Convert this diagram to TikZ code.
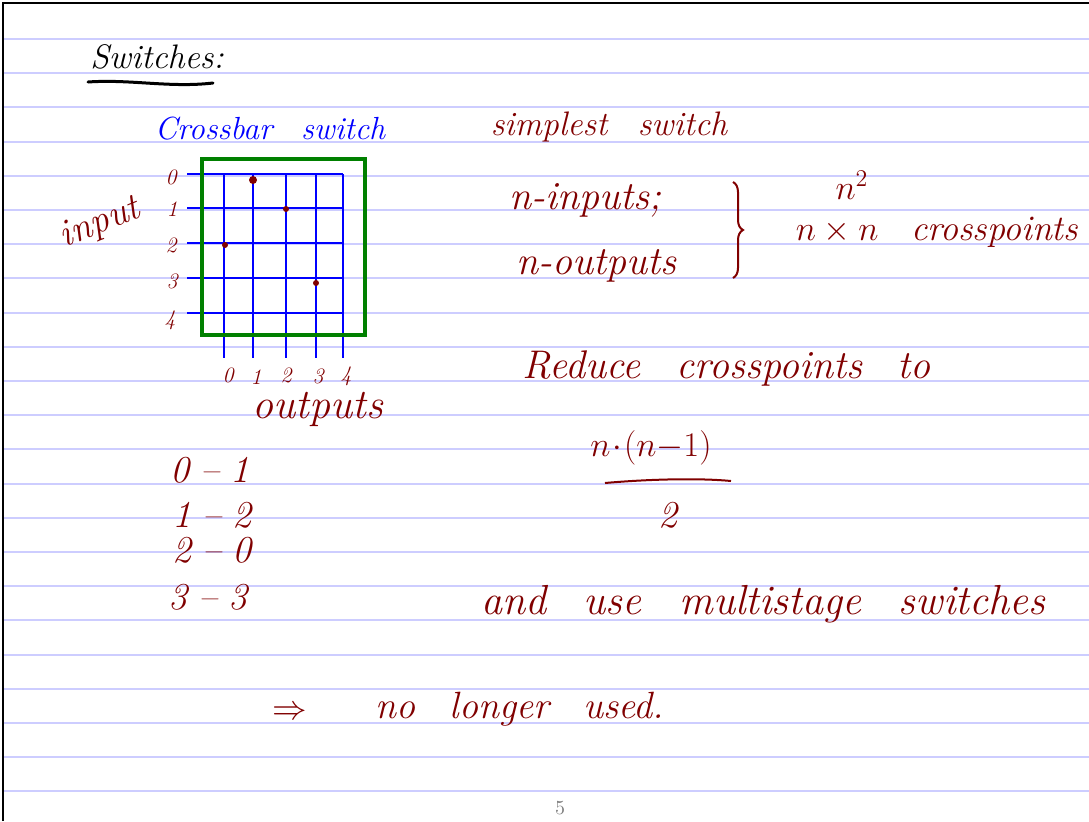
\documentclass[tikz,border=0pt]{standalone}
\usepackage{amsmath,amssymb}
\usepackage{tikz}
\usetikzlibrary{positioning,decorations.pathreplacing}
\definecolor{ink}{RGB}{128,0,0}
\definecolor{inkblue}{RGB}{0,0,255}
\definecolor{inkgreen}{RGB}{0,128,0}
\definecolor{ruling}{RGB}{205,205,255}
\newcommand{\handsize}[1]{\fontsize{#1}{#1}\selectfont\itshape\spaceskip=0.9em plus 0.1em\relax}
\newcommand{\pairsize}{\fontsize{19}{19}\selectfont\itshape\spaceskip=0.3em plus 0.1em\relax}

\begin{document}
\begin{tikzpicture}[x={(0.5pt,0pt)},y={(0pt,-0.5pt)},every node/.style={inner sep=0pt, outer sep=0pt},
  hand/.style={text=ink, font=\handsize{17}},
  small/.style={text=ink, font=\handsize{11}},
  pair/.style={text=ink, font=\pairsize},
  rule/.style={ruling, line width=1pt},
  wire/.style={inkblue, line width=1pt},
  dot/.style={circle, fill=ink, minimum size=3pt}]
\useasboundingbox (0,0) rectangle (1089,821);
% lined paper
\draw[rule] (3,39) -- (1089,39);
\draw[rule] (3,73) -- (1089,73);
\draw[rule] (3,107) -- (1089,107);
\draw[rule] (3,142) -- (1089,142);
\draw[rule] (3,176) -- (1089,176);
\draw[rule] (3,210) -- (1089,210);
\draw[rule] (3,244) -- (1089,244);
\draw[rule] (3,278) -- (1089,278);
\draw[rule] (3,313) -- (1089,313);
\draw[rule] (3,347) -- (1089,347);
\draw[rule] (3,381) -- (1089,381);
\draw[rule] (3,415) -- (1089,415);
\draw[rule] (3,449) -- (1089,449);
\draw[rule] (3,484) -- (1089,484);
\draw[rule] (3,518) -- (1089,518);
\draw[rule] (3,552) -- (1089,552);
\draw[rule] (3,586) -- (1089,586);
\draw[rule] (3,620) -- (1089,620);
\draw[rule] (3,655) -- (1089,655);
\draw[rule] (3,689) -- (1089,689);
\draw[rule] (3,723) -- (1089,723);
\draw[rule] (3,757) -- (1089,757);
\draw[rule] (3,791) -- (1089,791);
\draw[black, line width=1pt] (3,821) -- (3,3) -- (1089,3);

% title
\node[hand, text=black] (title) at (157,57) {Switches:};
\draw[black, line width=1.5pt, line cap=round] (88,82) .. controls (130,79) and (170,88) .. (213,83);

% crossbar
\node[hand, text=inkblue, font=\handsize{16}] (xbar) at (270,129) {Crossbar switch};
\draw[wire] (187,174) -- (343,174);
\draw[wire] (187,208) -- (343,208);
\draw[wire] (187,243) -- (343,243);
\draw[wire] (187,278) -- (343,278);
\draw[wire] (187,313) -- (343,313);
\draw[wire] (224,174) -- (224,358);
\draw[wire] (253,174) -- (253,358);
\draw[wire] (286,174) -- (286,358);
\draw[wire] (316,174) -- (316,358);
\draw[wire] (343,174) -- (343,358);
\draw[inkgreen, line width=2pt] (202,159) rectangle (365,335);
\node[dot, minimum size=4pt] (d01) at (253,180) {};
\node[dot] (d12) at (286,209) {};
\node[dot] (d20) at (225,245) {};
\node[dot] (d33) at (316,283) {};
\node[small] (r0) at (171,177) {0};
\node[small] (r1) at (172,209) {1};
\node[small] (r2) at (171,245) {2};
\node[small] (r3) at (172,281) {3};
\node[small] (r4) at (170,320) {4};
\node[small] (c0) at (228,375) {0};
\node[small] (c1) at (256,377) {1};
\node[small] (c2) at (286,375) {2};
\node[small] (c3) at (318,376) {3};
\node[small] (c4) at (346,376) {4};
\node[hand, font=\handsize{19}, rotate=22] (input) at (100,224) {input};
\node[hand, font=\handsize{21}] (outputs) at (318,409) {outputs};

% connections
\node[pair] (m0) at (210,470) {0 -- 1};
\node[pair] (m1) at (212,515) {1 -- 2};
\node[pair] (m2) at (212,550) {2 -- 0};
\node[pair] (m3) at (208,597) {3 -- 3};

% right column
\node[hand] (simplest) at (609,127) {simplest switch};
\node[hand, font=\handsize{20}] (nin) at (585,200) {n-inputs;};
\node[hand, font=\handsize{20}] (nout) at (596,266) {n-outputs};
\draw[ink, line width=1pt, decorate, decoration={brace, amplitude=5pt}] (733,182) -- (733,278);
\node[hand] (nsq) at (852,185) {$n^2$};
\node[hand, font=\handsize{18}] (nxn) at (937,232) {$n\times n$ crosspoints};
\node[hand, font=\handsize{20}] (reduce) at (727,368) {Reduce crosspoints to};
\node[hand] (numer) at (651,448) {$n\!\cdot\!(n{-}1)$};
\draw[ink, line width=1pt] (605,483) .. controls (650,479) and (700,478) .. (731,481);
\node[hand, font=\handsize{19}] (denom) at (668,515) {2};
\node[hand, font=\handsize{21}] (multi) at (763,604) {and use multistage switches};
\node[hand, font=\handsize{19}] (implies) at (290,713) {$\Rightarrow$};
\node[hand, font=\handsize{19}] (unused) at (520,709) {no longer used.};

\node[text=gray, font=\fontsize{10}{12}\selectfont\rmfamily\upshape] (page) at (560,808) {5};
\end{tikzpicture}
\end{document}
